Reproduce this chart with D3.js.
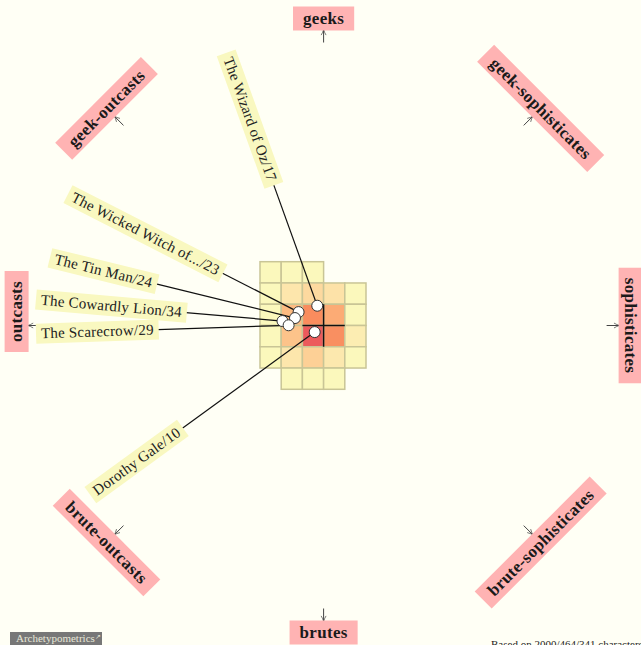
<!DOCTYPE html>
<html>
<head>
<meta charset="utf-8">
<script src="https://cdn.jsdelivr.net/npm/d3@7"></script>
<style>
  html, body { margin: 0; padding: 0; background: #fffff5; overflow: hidden; }
  svg { display: block; }
</style>
</head>
<body>
<svg id="chart" width="641" height="645"></svg>
<script>
// archetype grid for one story, characters placed in the geek/brute x outcast/sophisticate plane

var characters = ['The Wizard of Oz', 'The Wicked Witch of...', 'The Tin Man', 'The Cowardly Lion', 'The Scarecrow', 'Dorothy Gale'];
var counts = [17, 23, 24, 34, 29, 10];
var posX = [-0.30, -1.18, -1.35, -1.94, -1.65, -0.42]; // outcasts (-) .. sophisticates (+)
var posY = [-0.93, -0.63, -0.35, -0.21, -0.01, 0.31];  // geeks (-) .. brutes (+)

// density cells, one row per unit (top row at -3), first column given per row
var cellRowStart = [-3, -3, -3, -3, -3, -2];
var cellDensity = [
    [0, 0, 0],
    [0, 0.20, 0.30, 0.25, 0],
    [0, 0.47, 0.72, 0.55, 0],
    [0, 0.42, 1.00, 0.70, 0.12],
    [0, 0.20, 0.35, 0.18, 0],
    [0, 0, 0]
];
var cellRowY = [-3, -2, -1, 0, 1, 2];

var archetypes = ['geeks', 'geek-sophisticates', 'sophisticates', 'brute-sophisticates', 'brutes', 'brute-outcasts', 'outcasts', 'geek-outcasts'];

// layout only
var archetypeAngles = [-90, -45, 0, 45, 90, 135, 180, -135];
var archetypeRotations = [0, 45, 90, -45, 0, 45, -90, -45];
var leaderAngles = [70.2, 27.1, 13.8, 5.0, -1.9, -36.0]; // direction from label end to point
var leaderLengths = [129, 86, 143, 97, 131, 164];

var svg = d3.select('#chart');
var W = 641, H = 645;

svg.append('rect').attr('width', W).attr('height', H).attr('fill', '#fffff5');

var x = d3.scaleLinear().domain([-3, 2]).range([260, 366]);
var y = d3.scaleLinear().domain([-3, 3]).range([261.7, 389.3]);
var cx = x(0), cy = y(0);

var color = d3.scaleLinear()
    .domain([0, 0.25, 0.5, 0.75, 1])
    .range(['#fbf8bc', '#fde2a8', '#fdb47c', '#f8865a', '#ec5a5c']);

var defs = svg.append('defs');
defs.append('marker')
    .attr('id', 'arr')
    .attr('viewBox', '0 0 10 10')
    .attr('refX', 9).attr('refY', 5)
    .attr('markerWidth', 7).attr('markerHeight', 7)
    .attr('orient', 'auto')
    .append('path')
    .attr('d', 'M1,1.5 Q5,4 9,5 Q5,6 1,8.5')
    .attr('fill', 'none')
    .attr('stroke', '#444')
    .attr('stroke-width', 1);

// grid cells
var cells = [];
cellDensity.forEach(function (row, i) {
    row.forEach(function (v, j) {
        cells.push({ col: cellRowStart[i] + j, row: cellRowY[i], v: v });
    });
});

svg.append('g').selectAll('rect')
    .data(cells)
    .enter().append('rect')
    .attr('x', function (d) { return x(d.col); })
    .attr('y', function (d) { return y(d.row); })
    .attr('width', function (d) { return x(d.col + 1) - x(d.col); })
    .attr('height', function (d) { return y(d.row + 1) - y(d.row); })
    .attr('fill', function (d) { return color(d.v); })
    .attr('stroke', '#c9c596')
    .attr('stroke-width', 1.5);

// center cross
svg.append('line')
    .attr('x1', x(0)).attr('x2', x(0)).attr('y1', y(-1)).attr('y2', y(1))
    .attr('stroke', '#111').attr('stroke-width', 1.5);
svg.append('line')
    .attr('x1', x(-1)).attr('x2', x(1)).attr('y1', y(0)).attr('y2', y(0))
    .attr('stroke', '#111').attr('stroke-width', 1.5);

// outer archetype labels + arrows
var rad = Math.PI / 180;
archetypes.forEach(function (name, i) {
    var a = archetypeAngles[i] * rad;
    var ux = Math.cos(a), uy = Math.sin(a);
    svg.append('line')
        .attr('x1', cx + ux * 283).attr('y1', cy + uy * 283)
        .attr('x2', cx + ux * 296).attr('y2', cy + uy * 296)
        .attr('stroke', '#444').attr('stroke-width', 1)
        .attr('marker-end', 'url(#arr)');

    var r = 307;
    var nudge = name === 'outcasts' ? -14 : 0;
    var g = svg.append('g')
        .attr('transform', 'translate(' + (cx + ux * r) + ',' + (cy + uy * r + nudge) + ') rotate(' + archetypeRotations[i] + ')');
    var box = g.append('rect').attr('fill', '#ffb3b3');
    var t = g.append('text')
        .attr('text-anchor', 'middle')
        .attr('dy', '0.33em')
        .attr('font-family', 'Liberation Serif, serif')
        .attr('font-weight', 'bold')
        .attr('font-size', 17)
        .attr('letter-spacing', 0.3)
        .attr('fill', '#1a1a1a')
        .text(name);
    var w = t.node().getComputedTextLength() + 20;
    box.attr('x', -w / 2).attr('y', -12).attr('width', w).attr('height', 24);
});

// leader lines and character labels
characters.forEach(function (name, i) {
    var px = x(posX[i]), py = y(posY[i]);
    var a = leaderAngles[i] * rad;
    var ex = px - Math.cos(a) * leaderLengths[i];
    var ey = py - Math.sin(a) * leaderLengths[i];

    svg.append('line')
        .attr('x1', ex).attr('y1', ey).attr('x2', px).attr('y2', py)
        .attr('stroke', '#111').attr('stroke-width', 1.2);

    var g = svg.append('g')
        .attr('transform', 'translate(' + ex + ',' + ey + ') rotate(' + leaderAngles[i] + ')');
    var box = g.append('rect').attr('fill', '#f9f8c0');
    var t = g.append('text')
        .attr('x', -4)
        .attr('text-anchor', 'end')
        .attr('dy', '0.32em')
        .attr('font-family', 'Liberation Serif, serif')
        .attr('font-size', 15)
        .attr('letter-spacing', 0.2)
        .attr('fill', '#222')
        .text(name + '/' + counts[i]);
    var w = t.node().getComputedTextLength() + 10;
    box.attr('x', -w + 1).attr('y', -10).attr('width', w).attr('height', 20);
});

// character points on top
svg.append('g').selectAll('circle')
    .data(characters)
    .enter().append('circle')
    .attr('cx', function (d, i) { return x(posX[i]); })
    .attr('cy', function (d, i) { return y(posY[i]); })
    .attr('r', 5.5)
    .attr('fill', '#fff')
    .attr('stroke', '#333')
    .attr('stroke-width', 1);

// footer
svg.append('rect')
    .attr('x', 10).attr('y', 632).attr('width', 92).attr('height', 16)
    .attr('fill', '#777');
svg.append('text')
    .attr('x', 16).attr('y', 642)
    .attr('font-family', 'Liberation Serif, serif')
    .attr('font-size', 11)
    .attr('fill', '#e8e8d8')
    .text('Archetypometrics')
    .append('tspan')
    .attr('font-size', 7)
    .attr('dy', -3)
    .text('↗');

svg.append('text')
    .attr('x', 491).attr('y', 648)
    .attr('font-family', 'Liberation Serif, serif')
    .attr('font-size', 11)
    .attr('fill', '#222')
    .text('Based on 2000/464/341 characters/...');
</script>
</body>
</html>
